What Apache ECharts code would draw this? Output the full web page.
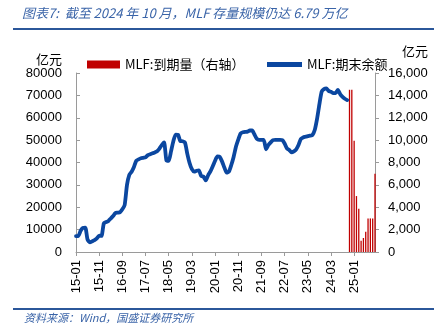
<!DOCTYPE html>
<html><head><meta charset="utf-8">
<script src="https://cdn.jsdelivr.net/npm/echarts@6/dist/echarts.min.js"></script>
<style>html,body{margin:0;padding:0;background:#fff}#c{width:442px;height:335px}</style>
</head><body><div id="c"></div>
<script>
// Categories: monthly 2015-01 .. 2025-10
const categories = [];
for (let y = 2015; y <= 2025; y++) for (let m = 1; m <= 12; m++) {
  if (y === 2025 && m > 10) break;
  categories.push(String(y).slice(2) + '-' + String(m).padStart(2, '0'));
}
// MLF outstanding balance (亿元), 2015-01 .. 2024-10
const balance = [
  7100,7150,9500,10800,10900,5500,4300,4800,5300,6100,7300,7200,
  12800,13400,13900,15000,16100,17400,17600,17800,19100,21000,30000,34500,
  35900,38000,40800,41400,41900,42100,42300,43300,43700,44100,44500,45000,
  46200,47800,49000,41000,40700,45000,49500,52500,52400,49600,49500,49000,
  44000,39800,37000,35900,36300,36500,34000,33700,32000,34300,36000,38300,
  40800,42700,42500,40500,37800,35500,36000,38900,42500,47000,50200,53000,
  53500,53700,53800,54300,54300,52500,50600,50100,50100,50100,45900,47800,
  49000,50000,50100,50100,50100,50000,48500,46300,45600,44500,45000,45900,
  47800,50500,51200,51500,51800,52000,52300,54500,59500,66000,71700,72800,
  73100,72000,71600,71000,71000,72500,70500,69300,68500,67900
];
// MLF maturities (亿元, right axis), 2024-11 .. 2025-10
const maturityMonths = ['24-11','24-12','25-01','25-02','25-03','25-04','25-05','25-06','25-07','25-08','25-09','25-10'];
const maturity = [14500,14500,9950,5000,3870,1000,1250,1820,3000,3000,3000,7000];

const leftTicks = [0,10000,20000,30000,40000,50000,60000,70000,80000];
const rightTicks = [0,2000,4000,6000,8000,10000,12000,14000,16000];

const lineData = categories.map((c, i) => i < balance.length ? balance[i] : null);
const barData = categories.map(c => {
  const k = maturityMonths.indexOf(c);
  return k >= 0 ? maturity[k] : null;
});

const chart = echarts.init(document.getElementById('c'));
const axisColor = '#9a9a9a';
const font = 'Liberation Sans, Arial, sans-serif';
chart.setOption({
  animation: false,
  grid: { left: 76, right: 67, top: 73, bottom: 83 },
  legend: [
    { left: 82, top: 53, itemWidth: 33, itemHeight: 8, itemGap: 4,
      data: [{ name: 'MLF:到期量（右轴）', icon: 'rect' }],
      textStyle: { fontSize: 13, color: '#000', fontFamily: 'Noto Sans CJK SC' } },
    { left: 262, top: 53, itemWidth: 35, itemHeight: 5, itemGap: 4,
      data: [{ name: 'MLF:期末余额', icon: 'rect' }],
      textStyle: { fontSize: 13, color: '#000', fontFamily: 'Noto Sans CJK SC' } }
  ],
  graphic: [
    { type: 'text', left: 22, top: 7, style: { text: '图表7:  截至 2024 年 10 月，MLF 存量规模仍达 6.79 万亿', fill: '#3A64A8', font: 'italic 13px "Noto Sans CJK SC"' } },
    { type: 'rect', shape: { x: 13, y: 28, width: 421, height: 2 }, style: { fill: '#2B579A' } },
    { type: 'text', left: 36, top: 53, style: { text: '亿元', fill: '#000', font: '13px "Noto Sans CJK SC"' } },
    { type: 'text', left: 402, top: 45, style: { text: '亿元', fill: '#000', font: '13px "Noto Sans CJK SC"' } },
    { type: 'rect', shape: { x: 13, y: 308, width: 421, height: 2 }, style: { fill: '#2B579A' } },
    { type: 'text', left: 24, top: 312, style: { text: '资料来源：Wind，国盛证券研究所', fill: '#3A64A8', font: 'italic 11px "Noto Sans CJK SC"' } }
  ],
  xAxis: {
    type: 'category', data: categories, boundaryGap: false,
    axisLine: { lineStyle: { color: axisColor } },
    axisTick: { interval: 9, length: 4, lineStyle: { color: axisColor } },
    axisLabel: { interval: 9, rotate: 90, margin: 8, color: '#000', fontSize: 13, fontFamily: font }
  },
  yAxis: [
    { type: 'value', min: 0, max: 80000, interval: 10000,
      axisLine: { show: true, lineStyle: { color: axisColor } },
      axisTick: { show: true, inside: true, length: 4, lineStyle: { color: axisColor } },
      splitLine: { show: false },
      axisLabel: { margin: 14, color: '#000', fontSize: 13, fontFamily: font,
        formatter: v => leftTicks.includes(v) ? String(v) : '' } },
    { type: 'value', min: 0, max: 16000, interval: 2000, position: 'right',
      axisLine: { show: true, lineStyle: { color: axisColor } },
      axisTick: { show: true, length: 4, lineStyle: { color: axisColor } },
      splitLine: { show: false },
      axisLabel: { margin: 13, color: '#000', fontSize: 13, fontFamily: font,
        formatter: v => rightTicks.includes(v) ? v.toLocaleString('en-US') : '' } }
  ],
  series: [
    { name: 'MLF:到期量（右轴）', type: 'bar', yAxisIndex: 1, data: barData,
      barWidth: 1.3, itemStyle: { color: '#C00000' } },
    { name: 'MLF:期末余额', type: 'line', yAxisIndex: 0, data: lineData,
      showSymbol: false, symbol: 'none', connectNulls: false, smooth: 0.2,
      lineStyle: { width: 3.8, color: '#0B47A0', join: 'round', cap: 'round' },
      itemStyle: { color: '#0B47A0' } }
  ]
});
</script></body></html>
